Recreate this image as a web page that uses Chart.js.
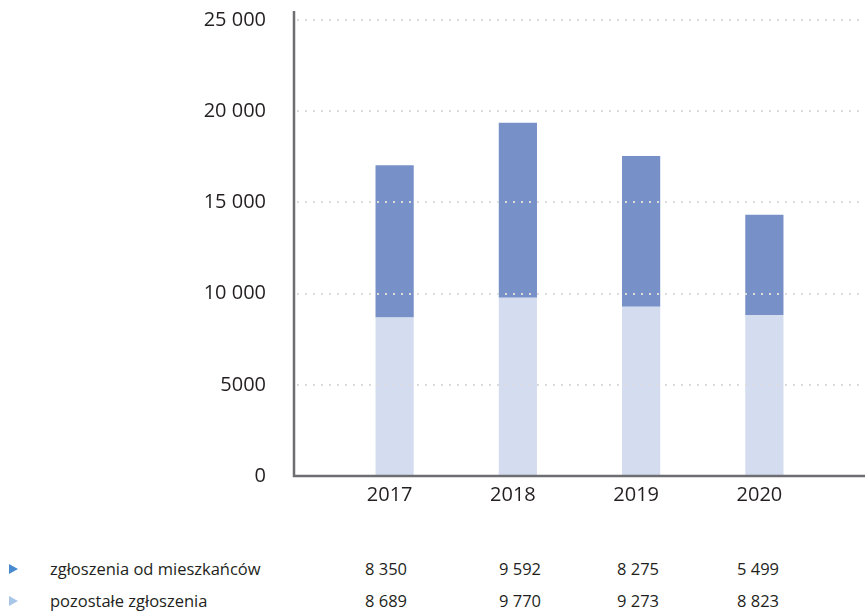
<!DOCTYPE html>
<html>
<head>
  <meta charset="UTF-8">
  <title>Zgłoszenia 2017-2020</title>
  <style type="text/css">
    body { margin: 0; background: #fff; font-family: "Open Sans", sans-serif; }
    #chart-container { position: relative; width: 865px; height: 520px; }
    #mycanvas { display: block; }
    #legend { position: relative; width: 865px; height: 95px; color: #231f20; font-size: 16.5px; }
    .row { position: absolute; left: 0; height: 20px; line-height: 20px; }
    .row span { position: absolute; white-space: nowrap; }
    .tri { width: 0; height: 0; border-top: 5px solid transparent; border-bottom: 5px solid transparent; border-left: 9px solid #4a8bd0; top: 5px; left: 9px; }
  </style>
  <script type="text/javascript" src="https://cdn.jsdelivr.net/npm/chart.js@4.4.0/dist/chart.umd.min.js"></script>
</head>
<body>

<div id="chart-container">
  <canvas id="mycanvas" width="865" height="520"></canvas>
</div>
<div id="legend"></div>

<script>
var years = ['2017', '2018', '2019', '2020'];
var odMieszkancow = [8350, 9592, 8275, 5499];
var pozostale = [8689, 9770, 9273, 8823];
var yTicks = [0, 5000, 10000, 15000, 20000, 25000];

// 5000 bez spacji, 10 000 ze spacją (jak w oryginale)
function axisFmt(v) {
  if (v < 10000) return String(v);
  return String(v).replace(/\B(?=(\d{3})+(?!\d))/g, ' ');
}
function tableFmt(v) {
  return String(v).replace(/\B(?=(\d{3})+(?!\d))/g, ' ');
}

// osie i kropkowane linie siatki rysowane na wierzchu słupków
var axesPlugin = {
  id: 'axesPlugin',
  afterDatasetsDraw: function(chart) {
    var ctx = chart.ctx;
    var y = chart.scales.y;
    var axisX = 294;
    var right = chart.width;
    ctx.save();
    ctx.strokeStyle = '#dcdcdc';
    ctx.lineWidth = 2;
    ctx.setLineDash([2, 6]);
    yTicks.forEach(function(t) {
      if (t === 0) return;
      var py = Math.round(y.getPixelForValue(t));
      ctx.beginPath();
      ctx.moveTo(axisX + 3, py);
      ctx.lineTo(right, py);
      ctx.stroke();
    });
    ctx.setLineDash([]);
    ctx.strokeStyle = '#6d6e71';
    ctx.lineWidth = 2.5;
    var bottom = y.getPixelForValue(0);
    ctx.beginPath();
    ctx.moveTo(axisX, y.getPixelForValue(25000) - 9);
    ctx.lineTo(axisX, bottom);
    ctx.lineTo(right, bottom);
    ctx.stroke();
    ctx.restore();
  }
};

var chartdata = {
  labels: years,
  datasets: [
    {
      label: 'pozostałe zgłoszenia',
      backgroundColor: '#d4ddef',
      data: pozostale
    },
    {
      label: 'zgłoszenia od mieszkańców',
      backgroundColor: '#7790c8',
      data: odMieszkancow
    }
  ]
};

var ctx = document.getElementById('mycanvas');
var barGraph = new Chart(ctx, {
  type: 'bar',
  data: chartdata,
  plugins: [axesPlugin],
  options: {
    responsive: false,
    animation: false,
    devicePixelRatio: 1,
    layout: { padding: { top: 20, right: 39, bottom: 6, left: 0 } },
    plugins: { legend: { display: false }, tooltip: { enabled: false } },
    datasets: { bar: { categoryPercentage: 1, barPercentage: 0.31 } },
    scales: {
      x: {
        stacked: true,
        grid: { display: false, drawTicks: false },
        border: { display: false },
        ticks: { color: '#231f20', font: { family: 'Open Sans', size: 20 }, padding: 7, maxRotation: 0, labelOffset: -5 }
      },
      y: {
        stacked: true,
        min: 0,
        max: 25000,
        afterFit: function(s) {
          // szeroka oś, etykiety daleko od pierwszego słupka
          s.width = 333;
          s.paddingTop = 0;
          s.paddingBottom = 0;
        },
        afterBuildTicks: function(s) { s.ticks = yTicks.map(function(v) { return { value: v }; }); },
        grid: { display: false, drawTicks: false },
        border: { display: false },
        ticks: {
          color: '#231f20',
          font: { family: 'Open Sans', size: 20 },
          padding: 67,
          callback: function(v) { return axisFmt(v); }
        }
      }
    }
  }
});

// tabela pod wykresem
var rows = [
  { name: 'zgłoszenia od mieszkańców', color: '#4a8bd0', values: odMieszkancow, top: 39 },
  { name: 'pozostałe zgłoszenia', color: '#a8c6e8', values: pozostale, top: 71 }
];
var cols = [365, 499, 617, 737];
var legend = document.getElementById('legend');
rows.forEach(function(r) {
  var div = document.createElement('div');
  div.className = 'row';
  div.style.top = r.top + 'px';
  var html = '<span class="tri" style="border-left-color:' + r.color + '"></span>';
  html += '<span style="left:50px">' + r.name + '</span>';
  for (var i = 0; i < r.values.length; i++) {
    html += '<span style="left:' + cols[i] + 'px">' + tableFmt(r.values[i]) + '</span>';
  }
  div.innerHTML = html;
  legend.appendChild(div);
});
</script>

</body>
</html>
